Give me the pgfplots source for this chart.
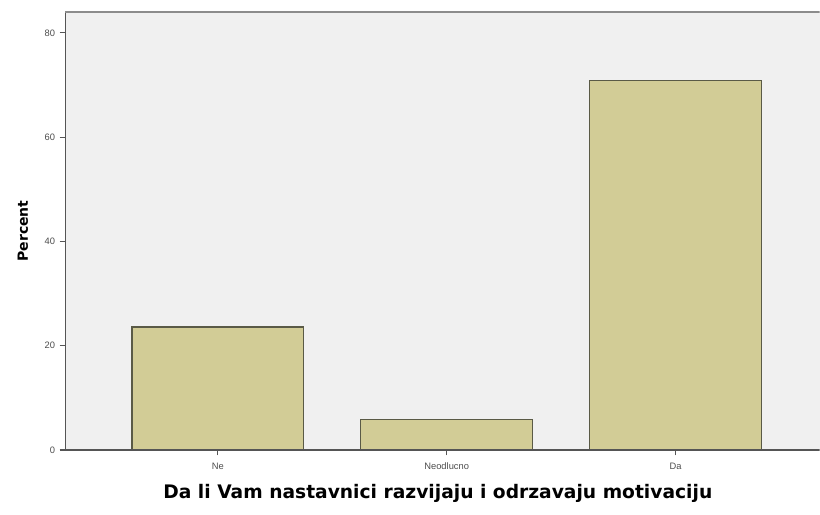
\documentclass[border=0pt]{standalone}
\usepackage{fontspec}
\setmainfont{Liberation Sans}
\newfontfamily\labfont{DejaVu Sans}
\usepackage{pgfplots}
\pgfplotsset{compat=1.18}

\definecolor{plotbg}{RGB}{240,240,240}
\definecolor{barfill}{RGB}{210,204,150}
\definecolor{baredge}{RGB}{90,90,70}
\definecolor{axisdark}{RGB}{85,85,85}

\begin{document}
\begin{tikzpicture}
% page = 820 x 514 px, 1px = 0.75pt
\path[use as bounding box] (0,0) rectangle (615pt,385.5pt);
\begin{axis}[
	at={(48.75pt,48pt)}, anchor=south west,
	scale only axis,
	width=566pt, height=328.5pt,
	xmin=-0.668, xmax=2.63,
	ymin=0, ymax=84,
	axis background/.style={fill=plotbg},
	axis line style={draw=none},
	tick pos=left, tick align=outside,
	major tick length=4pt,
	tick style={axisdark, line width=0.8pt},
	xtick=data,
	xticklabels={Ne,Neodlucno,Da},
	ytick={0,20,40,60,80},
	/pgf/number format/assume math mode=true,
	ticklabel style={font=\fontsize{7}{8}\selectfont, text=black!70},
	xticklabel style={yshift=-2pt},
	xlabel={\labfont\bfseries Da li Vam nastavnici razvijaju i odrzavaju motivaciju},
	ylabel={\labfont\bfseries Percent},
	xlabel style={font=\fontsize{14}{16}\selectfont, at={(axis description cs:0.494,0)}, anchor=center, yshift=-32.5pt},
	ylabel style={font=\fontsize{10.5}{12}\selectfont, yshift=5.5pt},
	ybar, bar width=0.75,
]
\addplot[fill=barfill, draw=baredge, line width=0.9pt]
	coordinates {(0,23.6) (1,5.9) (2,70.8)};
\draw[axisdark, line width=1.1pt] (axis description cs:0,1) -- (axis description cs:0,0) -- (axis description cs:1,0);
\draw[black!45, line width=1pt] (axis description cs:0,1) -- (axis description cs:1,1);
\end{axis}
\end{tikzpicture}
\end{document}
